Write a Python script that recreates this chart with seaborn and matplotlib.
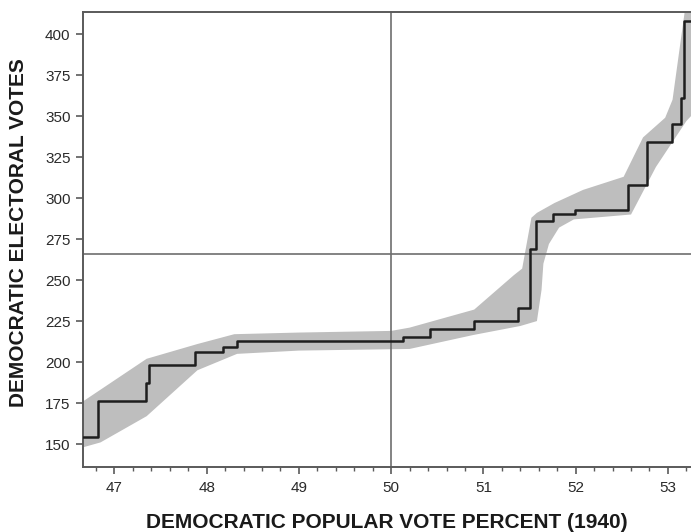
import numpy as np
import matplotlib
matplotlib.use("Agg")
import matplotlib.pyplot as plt
from matplotlib.ticker import MultipleLocator
import pandas as pd
import seaborn as sns

# step curve: popular vote share (%) -> electoral votes
vote_pct = [46.66, 46.82, 47.34, 47.37, 47.87, 48.18, 48.33, 50.13, 50.42, 50.90,
            51.38, 51.51, 51.57, 51.75, 51.99, 52.57, 52.77, 53.04, 53.14, 53.17, 53.25]
elec_votes = [154, 176, 187, 198, 206, 209, 213, 215, 220, 225,
              233, 269, 286, 290, 293, 308, 334, 345, 361, 408, 408]

# uncertainty band edges
upper_x = [46.66, 47.35, 47.9, 48.3, 49.0, 50.0, 50.2, 50.9, 51.33, 51.42, 51.52,
           51.58, 51.77, 52.08, 52.52, 52.73, 52.97, 53.05, 53.18, 53.25]
upper_y = [176, 202, 211, 217, 218, 219, 221, 232, 253, 257, 288,
           291, 297, 305, 313, 337, 349, 360, 413, 413]
lower_x = [46.66, 46.85, 47.35, 47.9, 48.33, 49.0, 50.2, 50.89, 51.4, 51.58, 51.63,
           51.65, 51.71, 51.82, 51.98, 52.6, 52.87, 53.2, 53.25]
lower_y = [148, 151, 167, 195, 205, 207, 208, 216.5, 222, 225, 244,
           260, 272, 282, 287, 290, 319, 347, 350]

majority = 266
even_split = 50

sns.set_style("ticks")
plt.rcParams['font.family'] = ['Liberation Sans', 'DejaVu Sans']

fig = plt.figure(figsize=(6.91, 5.32), dpi=100)
ax = fig.add_axes([83/691, 65/532, 608/691, 455/532])

poly_x = np.concatenate([upper_x, lower_x[::-1]])
poly_y = np.concatenate([upper_y, lower_y[::-1]])
ax.fill(poly_x, poly_y, color="#bebebe", lw=0, zorder=1)

df = pd.DataFrame({"pct": vote_pct, "ev": elec_votes})
sns.lineplot(data=df, x="pct", y="ev", ax=ax, drawstyle="steps-post",
             color="#1e1e1e", lw=1.8, zorder=3)

ax.axhline(majority, color="#6e6e6e", lw=1.2, zorder=2)
ax.axvline(even_split, color="#6e6e6e", lw=1.2, zorder=2)

ax.set_xlim(46.66, 53.25)
ax.set_ylim(136, 413.5)
ax.xaxis.set_major_locator(MultipleLocator(1))
ax.xaxis.set_minor_locator(MultipleLocator(0.2))
ax.yaxis.set_major_locator(MultipleLocator(25))

for s in ["left", "bottom", "top"]:
    ax.spines[s].set_color("#5a5a5a")
    ax.spines[s].set_linewidth(1.4)
ax.spines["right"].set_visible(False)

ax.tick_params(axis="both", which="major", length=5, width=1.2, color="#5a5a5a",
               labelsize=11, labelcolor="#2a2a2a", pad=5)
ax.tick_params(axis="x", which="minor", length=3, width=1.0, color="#5a5a5a")
ax.tick_params(axis="y", which="major", pad=4)

ax.set_xlabel("DEMOCRATIC POPULAR VOTE PERCENT (1940)", fontsize=15,
              fontweight="bold", color="#1a1a1a", labelpad=13)
ax.set_ylabel("DEMOCRATIC ELECTORAL VOTES", fontsize=15,
              fontweight="bold", color="#1a1a1a")
ax.yaxis.set_label_coords(-0.091, 0.516)

fig.savefig("out.png", dpi=100, facecolor="white")
